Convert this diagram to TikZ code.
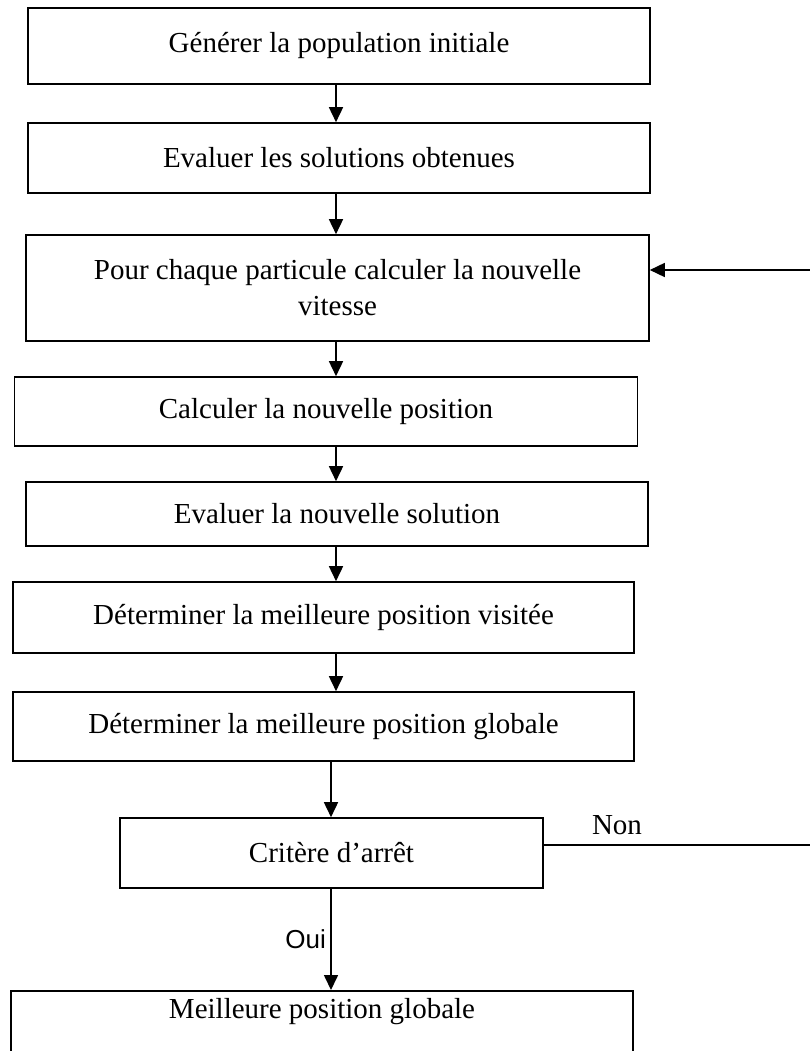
\documentclass[tikz,border=0pt]{standalone}
\usepackage{fontspec}
\setmainfont{Liberation Serif}
\newfontfamily\labelsans{Liberation Sans}
\usetikzlibrary{arrows.meta,positioning,calc}

\begin{document}
\begin{tikzpicture}[
    x=1pt, y=-1pt,
    box/.style={draw, line width=1.6pt, inner sep=0pt, align=center,
      font=\fontsize{29}{36}\selectfont},
    flow/.style={line width=1.6pt, -{Triangle[length=15pt,width=14pt]}},
    plain/.style={line width=1.6pt}
  ]
  \useasboundingbox (0,0) rectangle (810,1051);

  \node[box, minimum width=622, minimum height=76] (gen)   at (339,46)    {Générer la population initiale};
  \node[box, minimum width=622, minimum height=70] (evalA) at (339,158)   {Evaluer les solutions obtenues};
  \node[box, minimum width=623, minimum height=106] (vit)  at (337.5,288) {Pour chaque particule calculer la nouvelle\\ vitesse};
  \node[box, minimum width=623, minimum height=69] (pos)   at (326,411.5) {Calculer la nouvelle position};
  \node[box, minimum width=622, minimum height=64] (evalB) at (337,514)   {Evaluer la nouvelle solution};
  \node[box, minimum width=621, minimum height=71] (visit) at (323.5,617.5) {Déterminer la meilleure position visitée};
  \node[box, minimum width=621, minimum height=69] (glob)  at (323.5,726.5) {Déterminer la meilleure position globale};
  \node[box, minimum width=423, minimum height=70] (crit)  at (331.5,853) {Critère d’arrêt};
  \node[box, minimum width=622, anchor=north, inner ysep=8pt, text height=20pt, text depth=50pt] (best) at (322,990) {Meilleure position globale};

  \coordinate (spineA) at (336,0);
  \coordinate (spineB) at (331,0);
  \coordinate (nonEnd) at (810,845);
  \coordinate (backIn) at (810,270);

  \foreach \a/\b in {gen/evalA, evalA/vit, vit/pos, pos/evalB, evalB/visit, visit/glob}
    \draw[flow] (\a.south -| spineA) -- (\b.north -| spineA);
  \draw[flow] (glob.south -| spineB) -- (crit.north -| spineB);
  \draw[flow] (crit.south -| spineB) -- node[left=1pt, font=\labelsans\fontsize{26}{30}\selectfont] (oui) {Oui} (best.north -| spineB);

  \draw[plain] (nonEnd -| crit.east) -- (nonEnd);
  \node[font=\fontsize{29}{36}\selectfont] (non) at (617,825) {Non};
  \draw[flow] (backIn) -- (backIn -| vit.east);
\end{tikzpicture}
\end{document}
